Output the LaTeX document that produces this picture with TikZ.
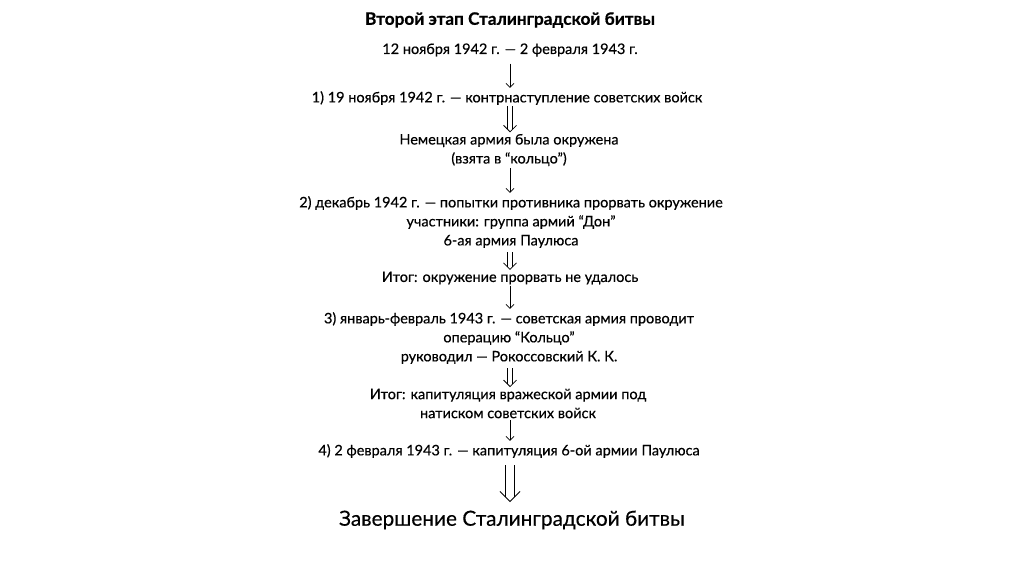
\documentclass[tikz,border=0pt]{standalone}
\usepackage{fontspec}
\setmainfont{Lato}
\newfontfamily\medfont{Lato}[FakeBold=0.35]
\newfontfamily\hvyfont{Lato}[UprightFont=*-Bold, FakeBold=0.6]
\usetikzlibrary{arrows.meta}
\tikzset{
  txt/.style={inner sep=0pt, align=center, font=\medfont\fontsize{14.5}{19}\selectfont},
  ttl/.style={inner sep=0pt, align=center, font=\hvyfont\fontsize{17.2}{19}\selectfont},
  fin/.style={inner sep=0pt, align=center, font=\medfont\fontsize{20.8}{24}\selectfont},
  sarr/.style={line width=0.8pt, -{Straight Barb[length=4pt,width=8pt]}},
  dl/.style={line width=0.8pt, line join=miter},
  bl/.style={line width=0.9pt, line join=miter}
}
\begin{document}
\begin{tikzpicture}[x=1pt,y=-1pt]
\useasboundingbox[fill=white] (0,0) rectangle (1024,574);
\node[ttl] (t) at (510,20) {Второй этап Сталинградской битвы};
\node[txt] (a) at (510,50) {12 ноября 1942 г. — 2 февраля 1943 г.};
\node[txt] (b) at (507,98) {1) 19 ноября 1942 г. — контрнаступление советских войск};
\node[txt] (c) at (509,150) {Немецкая армия была окружена\\(взята в “кольцо”)};
\node[txt] (d) at (511,222) {2) декабрь 1942 г. — попытки противника прорвать окружение\\участники: группа армий “Дон”\\6-ая армия Паулюса};
\node[txt] (e) at (510,278) {Итог: окружение прорвать не удалось};
\node[txt] (f) at (509,338) {3) январь-февраль 1943 г. — советская армия проводит\\операцию “Кольцо”\\руководил — Рокоссовский К. К.};
\node[txt] (g) at (508,403.5) {Итог: капитуляция вражеской армии под\\натиском советских войск};
\node[txt] (h) at (509,451) {4) 2 февраля 1943 г. — капитуляция 6-ой армии Паулюса};
\node[fin] (i) at (512,520) {Завершение Сталинградской битвы};

% single arrows
\draw[sarr] ([yshift=-7pt]a.south -| 510,0) -- ([yshift=3pt]b.north -| 510,0);
\draw[sarr] ([yshift=-2pt]c.south -| 510,0) -- ([yshift=3pt]d.north -| 510,0);
\draw[sarr] ([yshift=-1pt]e.south -| 510,0) -- ([yshift=3pt]f.north -| 510,0);
\draw[sarr] ([yshift=-2pt]g.south -| 510,0) -- ([yshift=3pt]h.north -| 510,0);

% double arrows
\path ([yshift=-1pt]b.south -| 510,0) coordinate (b1) ([yshift=2pt]c.north -| 510,0) coordinate (c1);
\path ([yshift=-4pt]d.south -| 510,0) coordinate (d1) ([yshift=2pt]e.north -| 510,0) coordinate (e1);
\path ([yshift=-4pt]f.south -| 510,0) coordinate (f1) ([yshift=2pt]g.north -| 510,0) coordinate (g1);
\foreach \s/\e in {b1/c1,d1/e1,f1/g1}{
  \draw[dl] ([xshift=-2.6pt]\s) -- ([xshift=-2.6pt,yshift=2.6pt]\e);
  \draw[dl] ([xshift=2.6pt]\s) -- ([xshift=2.6pt,yshift=2.6pt]\e);
  \draw[dl] ([xshift=-6.5pt,yshift=6.5pt]\e) -- (\e) -- ([xshift=6.5pt,yshift=6.5pt]\e);
}
% big double arrow
\path ([yshift=-7pt]h.south -| 510,0) coordinate (h1) ([yshift=9pt]i.north -| 510,0) coordinate (i1);
\draw[bl] ([xshift=-4.2pt]h1) -- ([xshift=-4.2pt,yshift=4.2pt]i1);
\draw[bl] ([xshift=4.2pt]h1) -- ([xshift=4.2pt,yshift=4.2pt]i1);
\draw[bl] ([xshift=-10pt,yshift=10pt]i1) -- (i1) -- ([xshift=10pt,yshift=10pt]i1);
\end{tikzpicture}
\end{document}
